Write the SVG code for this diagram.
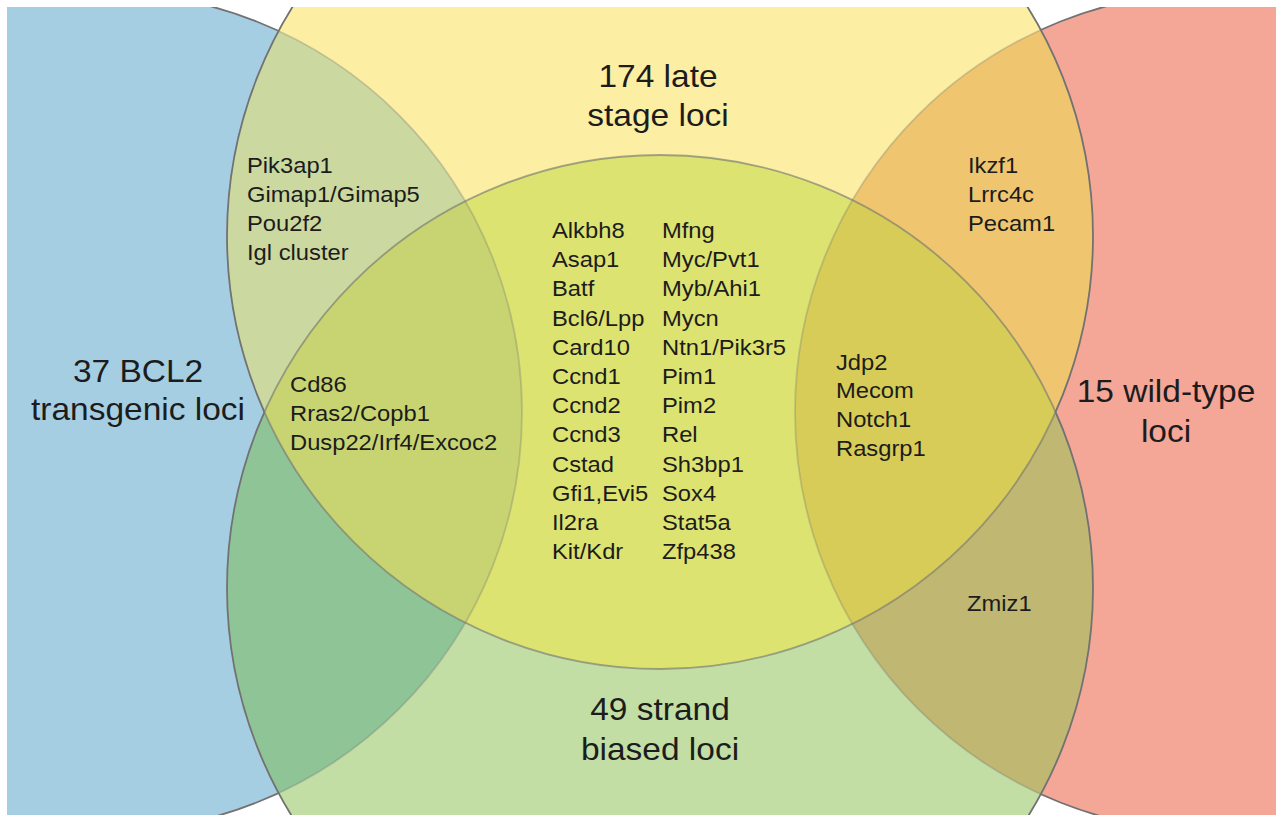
<svg xmlns="http://www.w3.org/2000/svg" width="1279" height="815" viewBox="0 0 1279 815">
<style>
.ol{fill:none;stroke:#727272;stroke-width:1.8}
.f1{stroke-opacity:0.3}
.f2{stroke-opacity:0.6}
.gene{font-family:"Liberation Sans",Arial,sans-serif;font-size:22px;fill:#1c1c1c}
.big{font-family:"Liberation Sans",Arial,sans-serif;font-size:31px;fill:#1c1c1c;text-anchor:middle}
</style>
<defs>
<clipPath id="frame"><rect x="7" y="7" width="1269" height="808"/></clipPath>
<clipPath id="cY"><circle cx="660" cy="236" r="433"/></clipPath>
<clipPath id="cG"><circle cx="660" cy="588" r="433"/></clipPath>
<clipPath id="cYG"><circle cx="660" cy="236" r="433"/><circle cx="660" cy="588" r="433"/></clipPath>
<mask id="mOutYG" maskUnits="userSpaceOnUse" x="0" y="0" width="1279" height="815"><rect x="0" y="0" width="1279" height="815" fill="#fff"/><circle cx="660" cy="236" r="433" fill="#000"/><circle cx="660" cy="588" r="433" fill="#000"/></mask>
<mask id="mOutG" maskUnits="userSpaceOnUse" x="0" y="0" width="1279" height="815"><rect x="0" y="0" width="1279" height="815" fill="#fff"/><circle cx="660" cy="588" r="433" fill="#000"/></mask>
<mask id="mOutY" maskUnits="userSpaceOnUse" x="0" y="0" width="1279" height="815"><rect x="0" y="0" width="1279" height="815" fill="#fff"/><circle cx="660" cy="236" r="433" fill="#000"/></mask>
</defs>
<rect width="1279" height="815" fill="#ffffff"/>
<g clip-path="url(#frame)">
<g id="sets">
<g id="set-bcl2"><circle cx="102" cy="412" r="420" fill="#a6cee3"/></g>
<g id="set-wildtype"><circle cx="1215" cy="412" r="420" fill="#f4a697"/></g>
<g id="set-late"><circle cx="660" cy="236" r="433" fill="#fceea2"/></g>
<g id="set-strand"><circle cx="660" cy="588" r="433" fill="#c2dea4"/></g>
</g>
<g id="overlaps">
<g clip-path="url(#cY)">
<circle cx="102" cy="412" r="420" fill="#cbd8a0"/>
<circle cx="1215" cy="412" r="420" fill="#efc66f"/>
</g>
<g clip-path="url(#cG)">
<circle cx="102" cy="412" r="420" fill="#8fc596"/>
<circle cx="1215" cy="412" r="420" fill="#bfb772"/>
<circle cx="660" cy="236" r="433" fill="#dce371"/>
</g>
<g clip-path="url(#cG)"><g clip-path="url(#cY)">
<circle cx="102" cy="412" r="420" fill="#c8d472"/>
<circle cx="1215" cy="412" r="420" fill="#d7cc58"/>
</g></g>
</g>
<g id="outlines">
<circle class="ol" cx="102" cy="412" r="420" mask="url(#mOutYG)"/>
<g clip-path="url(#cYG)"><circle class="ol f1" cx="102" cy="412" r="420"/></g>
<circle class="ol" cx="1215" cy="412" r="420" mask="url(#mOutYG)"/>
<g clip-path="url(#cYG)"><circle class="ol f1" cx="1215" cy="412" r="420"/></g>
<circle class="ol" cx="660" cy="236" r="433" mask="url(#mOutG)"/>
<g clip-path="url(#cG)"><circle class="ol f2" cx="660" cy="236" r="433"/></g>
<circle class="ol" cx="660" cy="588" r="433" mask="url(#mOutY)"/>
<g clip-path="url(#cY)"><circle class="ol f2" cx="660" cy="588" r="433"/></g>
</g>
</g>
<g id="labels">
<g id="label-late"><text class="big" transform="translate(658,87) scale(1.08,1)"><tspan x="0" y="0">174 late</tspan><tspan x="0" y="39">stage loci</tspan></text></g>
<g id="label-bcl2"><text class="big" transform="translate(138,382) scale(1.08,1)"><tspan x="0" y="0">37 BCL2</tspan><tspan x="0" y="38">transgenic loci</tspan></text></g>
<g id="label-wildtype"><text class="big" transform="translate(1166,402) scale(1.08,1)"><tspan x="0" y="0">15 wild-type</tspan><tspan x="0" y="40">loci</tspan></text></g>
<g id="label-strand"><text class="big" transform="translate(660,720) scale(1.08,1)"><tspan x="0" y="0">49 strand</tspan><tspan x="0" y="40">biased loci</tspan></text></g>
</g>
<g id="genes">
<g id="genes-bcl2-late"><text class="gene" transform="translate(247,173) scale(1.08,1)"><tspan x="0" y="0">Pik3ap1</tspan><tspan x="0" y="29">Gimap1/Gimap5</tspan><tspan x="0" y="58">Pou2f2</tspan><tspan x="0" y="87">Igl cluster</tspan></text></g>
<g id="genes-late-wildtype"><text class="gene" transform="translate(968,173) scale(1.08,1)"><tspan x="0" y="0">Ikzf1</tspan><tspan x="0" y="29">Lrrc4c</tspan><tspan x="0" y="58">Pecam1</tspan></text></g>
<g id="genes-bcl2-late-strand"><text class="gene" transform="translate(290,392) scale(1.08,1)"><tspan x="0" y="0">Cd86</tspan><tspan x="0" y="29">Rras2/Copb1</tspan><tspan x="0" y="58">Dusp22/Irf4/Excoc2</tspan></text></g>
<g id="genes-wildtype-late-strand"><text class="gene" transform="translate(836,369.5) scale(1.08,1)"><tspan x="0" y="0">Jdp2</tspan><tspan x="0" y="29">Mecom</tspan><tspan x="0" y="58">Notch1</tspan><tspan x="0" y="87">Rasgrp1</tspan></text></g>
<g id="genes-wildtype-strand"><text class="gene" transform="translate(967,611) scale(1.08,1)"><tspan x="0" y="0">Zmiz1</tspan></text></g>
<g id="genes-late-strand">
<text class="gene" transform="translate(552,238) scale(1.08,1)"><tspan x="0" y="0">Alkbh8</tspan><tspan x="0" y="29.2">Asap1</tspan><tspan x="0" y="58.4">Batf</tspan><tspan x="0" y="87.6">Bcl6/Lpp</tspan><tspan x="0" y="116.8">Card10</tspan><tspan x="0" y="146">Ccnd1</tspan><tspan x="0" y="175.2">Ccnd2</tspan><tspan x="0" y="204.4">Ccnd3</tspan><tspan x="0" y="233.6">Cstad</tspan><tspan x="0" y="262.8">Gfi1,Evi5</tspan><tspan x="0" y="292">Il2ra</tspan><tspan x="0" y="321.2">Kit/Kdr</tspan></text>
<text class="gene" transform="translate(662,238) scale(1.08,1)"><tspan x="0" y="0">Mfng</tspan><tspan x="0" y="29.2">Myc/Pvt1</tspan><tspan x="0" y="58.4">Myb/Ahi1</tspan><tspan x="0" y="87.6">Mycn</tspan><tspan x="0" y="116.8">Ntn1/Pik3r5</tspan><tspan x="0" y="146">Pim1</tspan><tspan x="0" y="175.2">Pim2</tspan><tspan x="0" y="204.4">Rel</tspan><tspan x="0" y="233.6">Sh3bp1</tspan><tspan x="0" y="262.8">Sox4</tspan><tspan x="0" y="292">Stat5a</tspan><tspan x="0" y="321.2">Zfp438</tspan></text>
</g>
</g>
</svg>
